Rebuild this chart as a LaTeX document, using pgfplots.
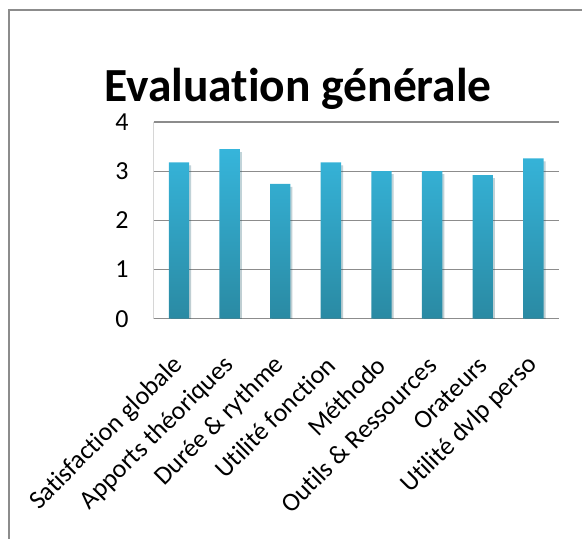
\documentclass[border=0pt]{standalone}
\usepackage{pgfplots}
\pgfplotsset{compat=1.18}
\usetikzlibrary{shadows}
\usepackage{fontspec}
\setmainfont[Ligatures=NoCommon]{Carlito}
\definecolor{bartop}{HTML}{36B5DB}
\definecolor{barbot}{HTML}{2A8AA3}
\definecolor{gridgray}{HTML}{8C8C8C}

\begin{document}
\begin{tikzpicture}[x=1pt,y=1pt]
\useasboundingbox (0,0) rectangle (582,539);
\begin{scope}
  \clip (0,0) rectangle (582,539);
  \draw[gridgray, line width=2pt] (9.3,-20) rectangle (640,529);
\end{scope}
\node[font=\bfseries\fontsize{47.5}{56}\selectfont, anchor=base] at (298,437.5) {Evaluation générale};
\begin{axis}[
  at={(153.7pt,220.3pt)}, anchor=south west,
  scale only axis, width=405pt, height=196.7pt,
  xmin=-0.5, xmax=7.5, ymin=0, ymax=4,
  ytick={0,1,2,3,4}, xtick={0,...,7},
  xticklabels={Satisfaction globale, Apports théoriques, Durée \& rythme, Utilité fonction, Méthodo, Outils \& Ressources, Orateurs, Utilité dvlp perso},
  axis line style={draw=none}, tick style={draw=none},
  ymajorgrids, grid style={gridgray, line width=1.3pt},
  ybar, bar width=20.4pt,
  ticklabel style={font=\fontsize{26}{30}\selectfont},
  /pgf/number format/assume math mode=true,
  yticklabel style={anchor=east, inner sep=0pt},
  yticklabel shift=25pt,
  xticklabel style={rotate=45, anchor=east, inner sep=0pt},
  xticklabel shift=38pt,
]
\addplot[draw=none, top color=bartop, bottom color=barbot,
  drop shadow={shadow xshift=2pt, shadow yshift=-3pt, opacity=0.15, fill=black}]
  coordinates {(0,3.18)(1,3.45)(2,2.74)(3,3.18)(4,3.0)(5,3.0)(6,2.92)(7,3.26)};
\draw[gridgray, line width=1.3pt] (axis cs:-0.5,0) -- (axis cs:-0.5,4);
\end{axis}
\end{tikzpicture}
\end{document}
